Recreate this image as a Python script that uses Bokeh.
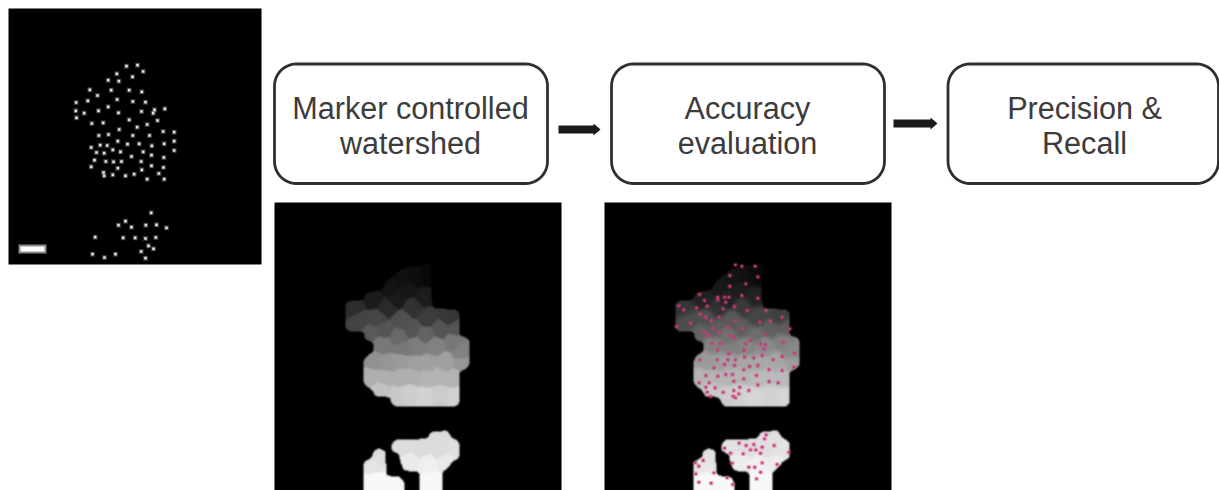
import numpy as np
from bokeh.plotting import figure
from bokeh.models import Range1d
from bokeh.core.properties import value
from bokeh.embed import file_html
from bokeh.resources import INLINE

# Dots and cells are in 3x crop coordinates of their crop.
dots_a = [(378,197),(411,194),(428,213),(349,220),(396,229),(323,239),(355,242),(268,268),(332,269),(386,269),(424,274),(291,285),(350,297),(262,301),(227,306),(397,303),(435,305),(323,319),(493,325),(462,328),(226,331),(294,331),(251,338),(354,337),(423,333),(458,338),(228,352),(386,358),(471,360),(274,369),(308,367),(410,380),(440,372),(356,387),(488,393),(521,395),(295,405),(324,402),(397,405),(447,405),(352,422),(521,422),(272,441),(299,434),(320,435),(381,431),(416,430),(454,436),(491,430),(337,448),(360,454),(288,456),(311,458),(428,454),(521,450),(393,468),(453,464),(490,471),(282,479),(316,483),(339,484),(363,483),(422,483),(272,499),(352,503),(453,496),(489,501),(424,508),(309,516),(311,526),(337,523),(375,526),(401,521),(475,519),(440,536),(491,536),(452,637),(375,662),(354,674),(393,680),(436,674),(468,673),(498,682),(284,710),(368,712),(404,712),(435,714),(466,711),(444,736),(459,745),(422,753),(276,761),(312,771),(345,761),(435,773)]
dots_c = [(405,193),(424,197),(464,197),(388,225),(472,229),(436,250),(388,257),(297,282),(352,290),(372,290),(385,290),(424,285),(472,293),(312,300),(352,298),(376,305),(235,316),(288,322),(320,317),(368,325),(402,318),(250,328),(300,341),(316,350),(356,350),(440,330),(497,330),(545,350),(332,360),(270,368),(228,378),(405,362),(478,365),(510,362),(382,378),(338,383),(425,385),(568,385),(310,395),(322,405),(356,395),(388,405),(495,402),(400,410),(448,420),(548,425),(335,428),(360,428),(435,430),(480,430),(495,432),(582,458),(352,448),(430,450),(385,460),(490,445),(545,468),(460,472),(485,465),(298,478),(350,478),(382,478),(405,478),(432,470),(518,478),(580,500),(340,502),(372,492),(402,495),(430,508),(447,498),(472,495),(505,507),(545,510),(316,525),(352,527),(376,522),(396,522),(468,525),(400,542),(430,535),(506,543),(533,547),(296,547),(326,547),(472,553),(316,560),(344,562),(418,560),(320,575),(368,575),(400,570),(445,570),(415,580),(330,588),(398,587),(405,592),(497,703),(492,715),(416,728),(437,735),(460,732),(485,740),(521,735),(372,743),(450,748),(466,748),(390,758),(428,760),(480,758),(565,755),(308,780),(285,787),(295,797),(395,788),(485,787),(445,800),(463,800),(530,792),(286,820),(340,817),(480,815),(380,832),(468,835),(295,845),(332,848),(397,852)]
cells = [(400,235,16),(440,232,13),(470,225,8),(355,265,20),(415,265,22),(310,295,28),(375,295,26),(460,290,28),
(250,320,45),(350,320,42),(430,320,50),(270,360,68),(320,355,70),(395,360,80),(470,350,60),(535,350,55),
(300,395,90),(340,390,85),(385,410,105),(425,385,85),(465,405,100),(510,385,85),(555,385,85),
(335,430,120),(395,445,120),(440,435,125),(490,435,130),(550,420,120),(575,455,130),
(310,480,145),(350,490,150),(390,480,155),(435,495,160),(475,490,160),(525,490,160),(578,490,150),
(300,530,175),(345,530,175),(395,530,175),(430,520,175),(470,530,180),(505,525,180),(545,530,180),
(330,570,195),(375,590,200),(410,580,205),(465,590,210),(510,585,205),(550,590,210),
(400,735,222),(450,745,220),(505,710,220),(510,750,220),(550,745,225),(420,785,235),(470,790,240),(525,780,235),(480,840,248),
(325,765,222),(305,795,228),(310,840,248),(370,850,248)]
outlines = [
 [(395,205),(482,188),(485,322),(558,328),(568,338),(568,405),(590,412),(596,422),(596,495),(585,507),(568,512),(568,608),(558,618),(375,618),(362,608),(360,590),(315,588),(305,568),(285,555),(280,545),(280,480),(290,465),(308,455),(308,425),(285,418),(280,393),(235,393),(225,382),(225,312),(235,302),(280,298),(285,278),(335,268),(345,245),(365,228)],
 [(362,735),(375,717),(470,715),(480,695),(530,690),(545,712),(560,720),(568,730),(568,770),(545,785),(530,805),(515,815),(515,880),(447,880),(447,815),(400,810),(390,785),(385,760),(365,752)],
 [(280,785),(305,770),(310,750),(325,744),(345,752),(348,825),(390,830),(402,848),(402,880),(280,880)],
]
box_labels = [["Marker controlled","watershed"],["Accuracy","evaluation"],["Precision &","Recall"]]

TOP = 490
fy = lambda y: TOP - np.asarray(y, float)

p = figure(width=1219, height=490, output_backend="svg", toolbar_location=None,
           x_range=Range1d(0,1219), y_range=Range1d(0,490), x_axis_location=None, y_axis_location=None,
           min_border=0, background_fill_color="white", border_fill_color="white", outline_line_color=None)
p.xgrid.visible = False; p.ygrid.visible = False

def blur(a, s):
    r = int(3*s)+1
    k = np.exp(-0.5*(np.arange(-r,r+1)/s)**2); k /= k.sum()
    a = np.pad(a, r, mode="edge")
    a = np.apply_along_axis(lambda v: np.convolve(v,k,"same"),0,a)
    a = np.apply_along_axis(lambda v: np.convolve(v,k,"same"),1,a)
    return a[r:-r,r:-r]

def inside(X,Y,poly):
    xs = np.array([q[0] for q in poly],float); ys = np.array([q[1] for q in poly],float)
    xe, ye = np.roll(xs,-1), np.roll(ys,-1)
    m = np.zeros(X.shape,bool)
    for a,b,c,d in zip(xs,ys,xe,ye):
        if b==d: continue
        m ^= ((b>Y)!=(d>Y)) & (X < (c-a)*(Y-b)/(d-b)+a)
    return m

def panel(x0, gamma, s_gray, grow):
    W,H = 287,288
    px,py = np.meshgrid(np.arange(W)+0.5, np.arange(H)+0.5)
    zx = (px+274-270)*3; zy = (py+202-200)*3
    mask = np.zeros(px.shape,bool)
    for o in outlines: mask |= inside(zx,zy,o)
    m = blur(mask.astype(float),1.5) > 0.5-grow
    m = blur(m.astype(float),0.7)
    sx = np.array([c[0] for c in cells],float); sy = np.array([c[1] for c in cells],float); g = np.array([c[2] for c in cells],float)
    d = (zx[...,None]-sx)**2+(zy[...,None]-sy)**2
    gray = g[np.argmin(d,axis=2)]
    gray = blur(gray,s_gray)
    gray = 255*(gray/255)**gamma
    val = np.clip(gray*m,0,255)
    rgba = np.zeros((H,W,4),np.uint8)
    rgba[...,0]=rgba[...,1]=rgba[...,2]=val.astype(np.uint8); rgba[...,3]=255
    packed = rgba.view(np.uint32).reshape(H,W)[::-1].copy()
    p.image_rgba(image=[packed], x=x0, y=0, dw=W, dh=H)

# panel A
p.quad(left=[8],right=[261],top=[fy(8)],bottom=[fy(264)],fill_color="black",line_color=None)
ax = np.array([d[0] for d in dots_a])/3; ay = np.array([d[1] for d in dots_a])/3
p.scatter(ax,fy(ay),marker="square",size=5,fill_color="#8a8a8a",fill_alpha=0.4,line_color=None)
p.scatter(ax,fy(ay),marker="square",size=2.6,fill_color="#e0e0e0",line_color=None)
p.quad(left=[18],right=[46],top=[fy(244)],bottom=[fy(253)],fill_color="#8c8c8c",line_color=None)
p.quad(left=[20],right=[44],top=[fy(246)],bottom=[fy(251)],fill_color="white",line_color=None)

# panels B and C
panel(274,1.0,0.8,0.0)
panel(604,0.9,2.0,0.06)
cx = np.array([d[0] for d in dots_c])/3+600; cy = np.array([d[1] for d in dots_c])/3+200
p.scatter(cx,fy(cy),marker="circle",size=5,fill_color="#d6307f",fill_alpha=0.35,line_color=None)
p.scatter(cx,fy(cy),marker="circle",size=2.4,fill_color="#c23c78",line_color=None)

# boxes
def rrect(l,r,t,b,rad):
    th = np.linspace(0,np.pi/2,12)
    xs = np.r_[l+rad-rad*np.cos(th), r-rad+rad*np.sin(th), r-rad+rad*np.cos(th), l+rad-rad*np.sin(th)]
    ys = np.r_[t+rad-rad*np.sin(th), t+rad-rad*np.cos(th), b-rad+rad*np.sin(th), b-rad+rad*np.cos(th)]
    return xs,fy(ys)
box_edges = [(274,547),(611,884),(947.5,1218)]
centers = [410,747,1084]
for (l,r),c,lab in zip(box_edges,centers,box_labels):
    xs,ys = rrect(l,r,63.5,183,22)
    p.patch(xs,ys,fill_color="white",line_color="#2f2f2f",line_width=2.8)
    p.text([c,c],fy([107.5,142.5]),text=lab,text_align="center",text_baseline="middle",
           text_font=value("Liberation Sans"),text_font_size="30.6px",text_color="#3c3c3c")

# arrows
for x0,x1,y in [(558,600,129),(893,937,123)]:
    xa = [x0,x1-7,x1-7,x1,x1-7,x1-7,x0]; ya=[y-4,y-4,y-6,y,y+6,y+4,y+4]
    p.patch(xa,fy(ya),fill_color="#1a1a1a",line_color=None)

open("out.html","w").write(file_html(p,INLINE))
